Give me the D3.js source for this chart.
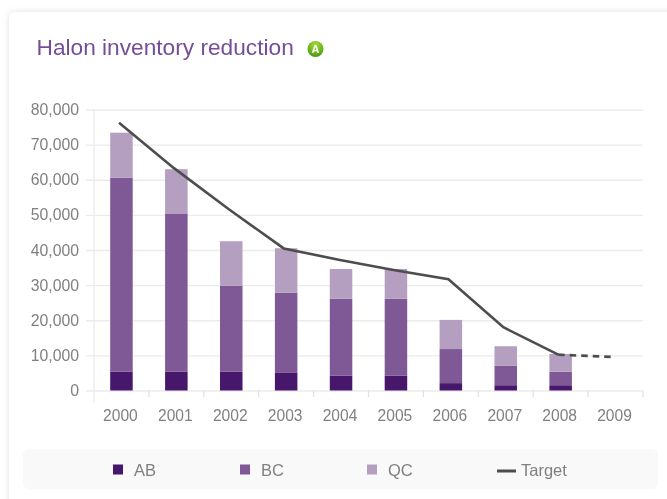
<!DOCTYPE html>
<html><head><meta charset="utf-8">
<script src="https://cdn.jsdelivr.net/npm/d3@7"></script>
<style>
html,body{margin:0;padding:0;background:#fff;width:667px;height:499px;overflow:hidden}
svg{display:block;font-family:"Liberation Sans",Arial,sans-serif;filter:blur(0.4px)}
</style></head><body><svg id="c" width="667" height="499"></svg>
<script>
const years=["2000","2001","2002","2003","2004","2005","2006","2007","2008","2009"];
const seriesNames=["AB","BC","QC"];
const AB=[5400,5400,5400,5000,4200,4200,2100,1500,1500,0];
const BC=[55200,44850,24400,22800,21900,21900,9700,5500,3850,0];
const QC=[12800,12750,12700,12700,8500,8500,8300,5600,5050,0];
const target=[76200,63300,51600,40450,37250,34300,31650,18000,10200,9540];
const yTicks=[0,10000,20000,30000,40000,50000,60000,70000,80000];
const colors=["#47176b","#7f5896","#b49fc1"];
const legendLabels=["AB","BC","QC","Target"];
const legendX=[113,240,367,497];

const svg=d3.select("#c");
const defs=svg.append("defs");
const shadow=defs.append("filter").attr("id","sh").attr("x","-5%").attr("y","-5%").attr("width","110%").attr("height","110%");
shadow.append("feDropShadow").attr("dx",0).attr("dy",0).attr("stdDeviation",3).attr("flood-color","#000").attr("flood-opacity",0.13);
const grad=defs.append("radialGradient").attr("id","badge").attr("cx","50%").attr("cy","25%").attr("r","75%");
grad.append("stop").attr("offset","0%").attr("stop-color","#a6dd3c");
grad.append("stop").attr("offset","100%").attr("stop-color","#4c9a0c");

svg.append("rect").attr("x",9).attr("y",12).attr("width",680).attr("height",520).attr("rx",7).attr("fill","#fff").attr("filter","url(#sh)");

svg.append("text").attr("x",36.5).attr("y",55).attr("font-size",22.7).attr("fill","#744e9a").text("Halon inventory reduction");
svg.append("circle").attr("cx",315.5).attr("cy",49).attr("r",8).attr("fill","url(#badge)");
svg.append("text").attr("x",315.5).attr("y",53).attr("text-anchor","middle").attr("font-size",11).attr("font-weight","bold").attr("fill","#fff").text("A");

const x=d3.scaleBand().domain(years).range([94,643]).paddingInner(0.59).paddingOuter(0.295);
const y=d3.scaleLinear().domain([0,80000]).range([390.5,109.5]);

// horizontal grid + y axis
const yAxis=d3.axisLeft(y).tickValues(yTicks).tickFormat(d3.format(",")).tickSize(-557).tickPadding(7);
const gy=svg.append("g").attr("transform","translate(86,0)").call(yAxis);
gy.select(".domain").remove();
gy.selectAll("line").attr("stroke","#ebebeb").attr("stroke-width",1.3);
gy.selectAll("text").attr("font-size",15.8).attr("fill","#808080").attr("x",-7).attr("font-family",'"Liberation Sans",Arial,sans-serif');

// vertical axis line
svg.append("line").attr("x1",94).attr("x2",94).attr("y1",109.5).attr("y2",403).attr("stroke","#ebebeb").attr("stroke-width",1.3);

// x axis
const bound=d=>x(d)-x.step()*x.paddingInner()/2;
svg.append("g").selectAll("line").data(years.slice(1)).join("line")
  .attr("x1",bound).attr("x2",bound).attr("y1",390.5).attr("y2",397)
  .attr("stroke","#e0e0e0").attr("stroke-width",1.2);
svg.append("line").attr("x1",643).attr("x2",643).attr("y1",390.5).attr("y2",397).attr("stroke","#e0e0e0").attr("stroke-width",1.2);
svg.append("g").selectAll("text").data(years).join("text")
  .attr("x",d=>x(d)+x.bandwidth()/2-1).attr("y",421).attr("text-anchor","middle")
  .attr("font-size",15.6).attr("fill","#808080").text(d=>d);

// stacked bars
const rows=years.map((yr,i)=>({year:yr,AB:AB[i],BC:BC[i],QC:QC[i]}));
const stack=d3.stack().keys(seriesNames)(rows);
svg.append("g").selectAll("g").data(stack).join("g").attr("fill",(d,i)=>colors[i])
  .selectAll("rect").data(d=>d).join("rect")
  .attr("x",d=>x(d.data.year)).attr("width",x.bandwidth())
  .attr("y",d=>y(d[1])).attr("height",d=>y(d[0])-y(d[1]));

// target line
const pts=years.map((yr,i)=>[x(yr)+x.bandwidth()/2-2.4,y(target[i])]);
const line=d3.line();
svg.append("path").attr("d",line(pts.slice(0,9))).attr("fill","none").attr("stroke","#4d4d4d").attr("stroke-width",2.6);
svg.append("path").attr("d",line(pts.slice(8))).attr("fill","none").attr("stroke","#4d4d4d").attr("stroke-width",2.6).attr("stroke-dasharray","6.5 5");

// legend
svg.append("rect").attr("x",23).attr("y",449).attr("width",635).attr("height",40).attr("rx",6).attr("fill","#f9f9f9");
const lg=svg.append("g").selectAll("g").data(legendLabels).join("g");
lg.filter((d,i)=>i<3).append("rect").attr("x",(d,i)=>legendX[i]).attr("y",464.5).attr("width",10).attr("height",10).attr("fill",(d,i)=>colors[i]);
lg.filter((d,i)=>i===3).append("line").attr("x1",497).attr("x2",516).attr("y1",471).attr("y2",471).attr("stroke","#4d4d4d").attr("stroke-width",3);
lg.append("text").attr("x",(d,i)=>i<3?legendX[i]+21:521).attr("y",476).attr("font-size",16.5).attr("fill","#808080").text(d=>d);
</script></body></html>
